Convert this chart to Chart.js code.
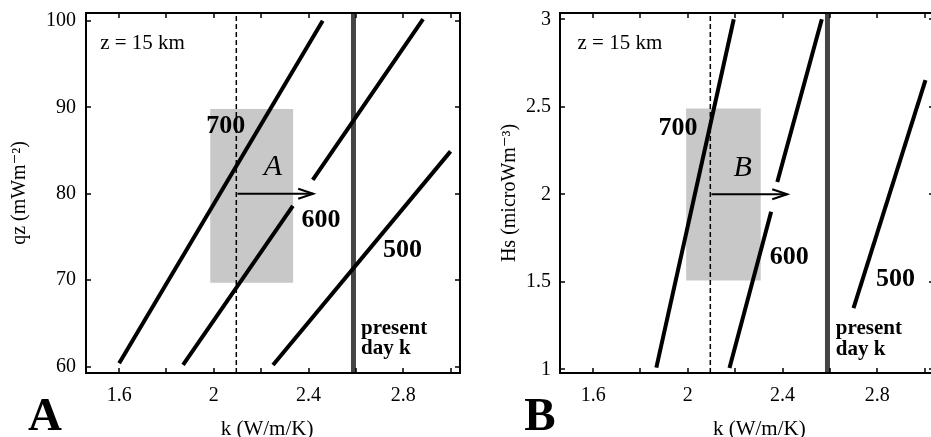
<!DOCTYPE html>
<html>
<head>
<meta charset="utf-8">
<script src="https://cdn.jsdelivr.net/npm/chart.js@4.4.1/dist/chart.umd.min.js"></script>
<style>
  html, body { margin: 0; padding: 0; background: #fff; overflow: hidden; width: 931px; height: 437px; }
  #wrapA { position: absolute; left: 0; top: 0; width: 465px; height: 437px; }
  #wrapB { position: absolute; left: 465px; top: 0; width: 474px; height: 437px; }
</style>
</head>
<body>
<div id="wrapA"><canvas id="chartA" width="465" height="437"></canvas></div>
<div id="wrapB"><canvas id="chartB" width="474" height="437"></canvas></div>
<script>
// ---------- tick values ----------
const kTicks = [1.6, 2, 2.4, 2.8];
const kMinorTicks = [1.8, 2.2, 2.6, 3.0];
const qzTicks = [60, 70, 80, 90, 100];
const hsTicks = [1, 1.5, 2, 2.5, 3];

// ---------- panel A (qz vs k) ----------
const kA700 = [1.6, 2.46];
const qzA700 = [60.4, 100];
const kA600 = [1.87, 2.334, null, 2.418, 2.884];
const qzA600 = [60.2, 78.6, null, 81.6, 100.2];
const kA500 = [2.25, 3.0];
const qzA500 = [60.2, 84.9];
const kAArrow = [2.1, 2.42];
const qzAArrow = [80, 80];
const kABox = [1.985, 2.335];
const qzABox = [69.7, 89.8];
const kPaleo = 2.095;
const kPresent = 2.59;

// ---------- panel B (Hs vs k) ----------
const kB700 = [1.867, 2.194];
const hsB700 = [1.01, 3.0];
const kB600 = [2.176, 2.352, null, 2.378, 2.566];
const hsB600 = [1.008, 1.9, null, 2.07, 3.0];
const kB500 = [2.7, 3.004];
const hsB500 = [1.35, 2.653];
const kBArrow = [2.1, 2.42];
const hsBArrow = [2, 2];
const kBBox = [1.993, 2.308];
const hsBBox = [1.507, 2.49];

// ---------- annotation texts ----------
const textsA = ['700', 'A', '600', '500', 'z = 15 km', 'present', 'day k'];
const textKA = [2.05, 2.25, 2.453, 2.797, 1.52, 2.622, 2.622];
const textYA = [87.75, 83.1, 76.96, 73.5, 97.4, 64.4, 62.1];
const textsB = ['700', 'B', '600', '500', 'z = 15 km', 'present', 'day k'];
const textKB = [1.958, 2.232, 2.428, 2.877, 1.534, 2.625, 2.625];
const textYB = [2.38, 2.148, 1.638, 1.513, 2.86, 1.235, 1.11];

const SERIF = '"Liberation Serif", "Times New Roman", "DejaVu Serif", serif';
const textStyles = [
  {font: 'bold 26px ' + SERIF, align: 'center'},
  {font: 'italic 30px ' + SERIF, align: 'center'},
  {font: 'bold 26px ' + SERIF, align: 'center'},
  {font: 'bold 26px ' + SERIF, align: 'center'},
  {font: '21px ' + SERIF, align: 'left'},
  {font: 'bold 21px ' + SERIF, align: 'left'},
  {font: 'bold 21px ' + SERIF, align: 'left'}
];

function pts(xs, ys) {
  return xs.map((x, i) => (x === null ? {x: NaN, y: null} : {x: x, y: ys[i]}));
}
function boxPts(xs, ys) {
  return [{x: xs[0], y: ys[0]}, {x: xs[1], y: ys[0]}, {x: xs[1], y: ys[1]}, {x: xs[0], y: ys[1]}, {x: xs[0], y: ys[0]}];
}

const decoPlugin = {
  id: 'deco',
  afterDatasetsDraw(chart, args, opts) {
    const ctx = chart.ctx;
    const ca = chart.chartArea;
    const xs = chart.scales.x, ys = chart.scales.y;
    ctx.save();
    // arrow head
    const meta = chart.getDatasetMeta(opts.arrowIndex);
    const p1 = meta.data[meta.data.length - 1];
    ctx.strokeStyle = '#000';
    ctx.lineWidth = 2;
    ctx.beginPath();
    ctx.moveTo(p1.x - 15, p1.y - 5);
    ctx.lineTo(p1.x, p1.y);
    ctx.lineTo(p1.x - 15, p1.y + 5);
    ctx.stroke();
    // inward ticks
    ctx.lineWidth = 1.5;
    ctx.beginPath();
    const tl = 5;
    opts.xTicks.forEach(v => {
      const px = Math.round(xs.getPixelForValue(v));
      if (px < ca.left || px > ca.right) return;
      ctx.moveTo(px, ca.bottom); ctx.lineTo(px, ca.bottom - tl);
      ctx.moveTo(px, ca.top); ctx.lineTo(px, ca.top + tl);
    });
    opts.yTicks.forEach(v => {
      const py = Math.round(ys.getPixelForValue(v));
      ctx.moveTo(ca.left, py); ctx.lineTo(ca.left + tl, py);
      ctx.moveTo(ca.right, py); ctx.lineTo(ca.right - tl, py);
    });
    ctx.stroke();
    // frame
    ctx.lineWidth = 2;
    ctx.strokeRect(ca.left, ca.top, ca.right - ca.left, ca.bottom - ca.top);
    // texts
    ctx.fillStyle = '#000';
    ctx.textBaseline = 'middle';
    opts.texts.forEach((t, i) => {
      ctx.font = textStyles[i].font;
      ctx.textAlign = textStyles[i].align;
      ctx.fillText(t, xs.getPixelForValue(opts.tx[i]), ys.getPixelForValue(opts.ty[i]));
    });
    // x axis title
    ctx.font = '21px ' + SERIF;
    ctx.textAlign = 'center';
    ctx.fillText('k (W/m/K)', xs.getPixelForValue(opts.xTitleK), 429);
    // big panel letter
    ctx.font = 'bold 47px ' + SERIF;
    ctx.textAlign = 'center';
    ctx.textBaseline = 'alphabetic';
    ctx.fillText(opts.panel, opts.panelX, 430);
    ctx.restore();
  }
};

function makeChart(id, cfg) {
  const lineDs = (data, extra) => Object.assign({
    data: data, showLine: true, borderColor: '#000', borderWidth: 4,
    pointRadius: 0, fill: false, spanGaps: false, borderCapStyle: 'butt'
  }, extra || {});
  const datasets = [
    lineDs(pts(cfg.arrowK, cfg.arrowY), {borderWidth: 2}),
    lineDs(pts(cfg.k700, cfg.y700)),
    lineDs(pts(cfg.k600, cfg.y600)),
    lineDs(pts(cfg.k500, cfg.y500)),
    lineDs([{x: kPresent, y: cfg.yMin}, {x: kPresent, y: cfg.yMax}], {borderColor: '#444', borderWidth: 5}),
    lineDs([{x: kPaleo, y: cfg.yMin}, {x: kPaleo, y: cfg.yMax}], {borderWidth: 1.5, borderDash: [5, 3]}),
    lineDs(boxPts(cfg.boxK, cfg.boxY), {borderWidth: 0, borderColor: 'rgba(0,0,0,0)', backgroundColor: '#c8c8c8', fill: 'shape'})
  ];
  return new Chart(document.getElementById(id), {
    type: 'scatter',
    data: {datasets: datasets},
    plugins: [decoPlugin],
    options: {
      responsive: false,
      animation: false,
      events: [],
      layout: {autoPadding: false, padding: {top: 13, right: 5, bottom: 0, left: 0}},
      plugins: {
        legend: {display: false},
        tooltip: {enabled: false},
        deco: {
          arrowIndex: 0, xTicks: kTicks.concat(kMinorTicks), yTicks: cfg.yTicks,
          texts: cfg.texts, tx: cfg.tx, ty: cfg.ty, panel: cfg.panel, panelX: cfg.panelX,
          xTitleK: cfg.xTitleK
        }
      },
      scales: {
        x: {
          type: 'linear', min: 1.46, max: 3.04,
          grid: {display: false, drawTicks: false},
          border: {display: false},
          afterBuildTicks: s => { s.ticks = kTicks.map(v => ({value: v})); },
          afterFit: s => { s.height = 64; s.paddingLeft = 0; s.paddingRight = 0; },
          ticks: {padding: 11, color: '#000', font: {family: SERIF, size: 20}, callback: v => String(v)},
          title: {display: false}
        },
        y: {
          type: 'linear', min: cfg.yMin, max: cfg.yMax,
          grid: {display: false, drawTicks: false},
          border: {display: false},
          afterBuildTicks: s => { s.ticks = cfg.yTicks.map(v => ({value: v})); },
          afterFit: s => { s.width = cfg.yWidth; s.paddingTop = 0; s.paddingBottom = 0; },
          ticks: {padding: cfg.yPad, color: '#000', font: {family: SERIF, size: 20}, callback: v => String(v)},
          title: {display: true, text: cfg.yTitle, color: '#000', font: {family: SERIF, size: 20, lineHeight: 1.2}, padding: {top: cfg.yTitlePad, bottom: 0}}
        }
      }
    }
  });
}

makeChart('chartA', {
  k700: kA700, y700: qzA700, k600: kA600, y600: qzA600, k500: kA500, y500: qzA500,
  arrowK: kAArrow, arrowY: qzAArrow, boxK: kABox, boxY: qzABox,
  yMin: 59.27, yMax: 100.9, yTicks: qzTicks, yWidth: 86, yPad: 10, yTitlePad: 8,
  yTitle: 'qz (mWm\u207B\u00B2)',
  texts: textsA, tx: textKA, ty: textYA, panel: 'A', panelX: 45, xTitleK: 2.225
});
makeChart('chartB', {
  k700: kB700, y700: hsB700, k600: kB600, y600: hsB600, k500: kB500, y500: hsB500,
  arrowK: kBArrow, arrowY: hsBArrow, boxK: kBBox, boxY: hsBBox,
  yMin: 0.979, yMax: 3.036, yTicks: hsTicks, yWidth: 95, yPad: 9, yTitlePad: 33,
  yTitle: 'Hs (microWm\u207B\u00B3)',
  texts: textsB, tx: textKB, ty: textYB, panel: 'B', panelX: 75, xTitleK: 2.302
});
</script>
</body>
</html>
